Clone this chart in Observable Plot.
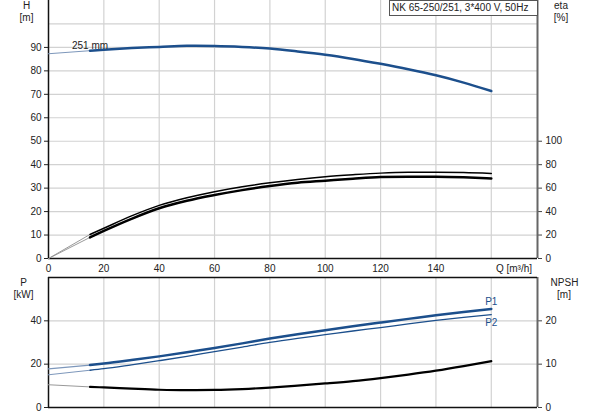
<!DOCTYPE html>
<html><head><meta charset="utf-8">
<script src="https://cdn.jsdelivr.net/npm/d3@7"></script>
<script src="https://cdn.jsdelivr.net/npm/@observablehq/plot@0.6"></script>
<style>
body{margin:0;background:#fff;font-family:"Liberation Sans",Arial,sans-serif;font-size:10px;color:#222}
#wrap{position:relative;width:593px;height:415px;overflow:hidden;background:#fff}
.abs{position:absolute;white-space:nowrap;line-height:1;transform:translate(-50%,-50%)}
#topc,#botc{position:absolute;left:0}
#topc{top:0}
#botc{top:276px}
#title{position:absolute;left:389px;top:0;width:145px;height:14px;border:1px solid #555;background:#fff;line-height:14px;padding-left:2px;white-space:nowrap;box-sizing:content-box}
</style></head><body>
<div id="wrap">
 <div id="topc"></div>
 <div id="botc"></div>
 <div id="title">NK 65-250/251, 3*400 V, 50Hz</div>
 <div class="abs" style="left:26.5px;top:5.5px">H</div>
 <div class="abs" style="left:26.5px;top:17.5px">[m]</div>
 <div class="abs" style="left:561px;top:5.5px">eta</div>
 <div class="abs" style="left:561px;top:17.5px">[%]</div>
 <div class="abs" style="left:514px;top:269px">Q [m³/h]</div>
 <div class="abs" style="left:23.5px;top:283px">P</div>
 <div class="abs" style="left:23.5px;top:294.5px">[kW]</div>
 <div class="abs" style="left:564.5px;top:283px">NPSH</div>
 <div class="abs" style="left:564px;top:294.5px">[m]</div>
</div>
<script>
// Flow Q [m³/h]
const q      = [0, 15, 20, 30, 40, 50, 60, 70, 80, 90, 100, 110, 120, 130, 140, 150, 160];
// Head H [m] (251 mm impeller)
const head   = [87.3, 88.6, 89.0, 89.7, 90.2, 90.7, 90.6, 90.2, 89.5, 88.3, 86.9, 85.1, 83.0, 80.7, 78.1, 75.0, 71.4];
// Efficiency [%] – pump (upper) and total (lower)
const etaUp  = [0, 20.5, 25.8, 36.3, 45.3, 51.8, 57.0, 61.2, 64.6, 67.4, 69.7, 71.4, 72.8, 73.5, 73.6, 73.3, 72.5];
const etaLo  = [0, 18.0, 23.5, 33.8, 42.8, 49.2, 54.1, 58.3, 61.8, 64.6, 66.3, 68.0, 69.4, 69.8, 69.7, 69.2, 68.3];
// Power [kW]
const p1     = [17.8, 19.6, 20.3, 21.9, 23.6, 25.5, 27.5, 29.6, 31.8, 33.8, 35.7, 37.5, 39.2, 40.9, 42.6, 44.1, 45.5];
const p2     = [15.1, 17.2, 17.9, 19.7, 21.6, 23.6, 25.8, 27.9, 30.1, 31.95, 33.6, 35.3, 36.9, 38.6, 40.2, 41.6, 42.9];
// NPSH [m]
const npsh   = [5.25, 4.75, 4.63, 4.35, 4.1, 4.0, 4.05, 4.25, 4.6, 5.05, 5.55, 6.1, 6.8, 7.6, 8.5, 9.55, 10.7];

const qMax = 176.7;
const xTicks = [0, 20, 40, 60, 80, 100, 120, 140];
const xGrid = [20, 40, 60, 80, 100, 120, 140, 160];
const hTicks = [0, 10, 20, 30, 40, 50, 60, 70, 80, 90];
const hGrid = [10, 20, 30, 40, 50, 60, 70, 80, 90, 100];
const etaTicks = [0, 20, 40, 60, 80, 100];
const pTicks = [0, 20, 40];
const pGrid = [20, 40];
const npshTicks = [0, 10, 20];
const thinEnd = 15;
const curveLabel = "251 mm";

const BLUE = "#1c4f8c";
const BLUE_THIN = "#7d97bb";
const GRAY_THIN = "#999";
const GRID = "#d2d2d2";
const chartStyle = {fontFamily: '"Liberation Sans", Arial, sans-serif', fontSize: "10px", color: "#222", background: "transparent", overflow: "visible"};

const rows = q.map((x, i) => ({q: x, head: head[i], e1: etaUp[i] / 2, e2: etaLo[i] / 2, p1: p1[i], p2: p2[i], npsh: npsh[i] * 2}));
const thin = rows.filter(d => d.q <= thinEnd);
const thick = rows.filter(d => d.q >= thinEnd);
const lastRow = rows[rows.length - 1];
const lblRow = rows.find(d => d.q === 15);
const C = "monotone-x";

const topChart = Plot.plot({
  width: 593, height: 276, marginLeft: 48, marginRight: 56, marginTop: 0, marginBottom: 18,
  style: chartStyle,
  x: {domain: [0, qMax]},
  y: {domain: [0, 110]},
  marks: [
    Plot.gridX(xGrid, {stroke: GRID, strokeOpacity: 1, strokeWidth: 1.2}),
    Plot.gridY(hGrid, {stroke: GRID, strokeOpacity: 1, strokeWidth: 1.2}),
    Plot.axisX({ticks: xTicks, tickSize: 0, tickPadding: 6, label: null}),
    Plot.axisY({ticks: hTicks, anchor: "left", tickSize: 4, tickPadding: 3, label: null, stroke: "#222"}),
    Plot.axisY({ticks: etaTicks.map(v => v / 2), tickFormat: d => d * 2, anchor: "right", tickSize: 4, tickPadding: 4, label: null, stroke: "#444"}),
    Plot.ruleX([0], {stroke: "#111", strokeWidth: 1.5}),
    Plot.ruleX([qMax], {stroke: "#666", strokeWidth: 2}),
    Plot.ruleY([0], {stroke: "#111", strokeWidth: 1.5}),
    Plot.line(thin, {x: "q", y: "head", stroke: BLUE_THIN, strokeWidth: 1, curve: C}),
    Plot.line(thin, {x: "q", y: "e1", stroke: GRAY_THIN, strokeWidth: 1, curve: C}),
    Plot.line(thin, {x: "q", y: "e2", stroke: GRAY_THIN, strokeWidth: 1, curve: C}),
    Plot.line(thick, {x: "q", y: "head", stroke: BLUE, strokeWidth: 2.5, curve: C}),
    Plot.line(thick, {x: "q", y: "e1", stroke: "#000", strokeWidth: 1.5, curve: C}),
    Plot.line(thick, {x: "q", y: "e2", stroke: "#000", strokeWidth: 2.5, curve: C}),
    Plot.text([lblRow], {x: "q", y: "head", text: () => curveLabel, dy: -5, dx: 0, textAnchor: "middle", fill: "#222"})
  ]
});
document.getElementById("topc").appendChild(topChart);

const botChart = Plot.plot({
  width: 593, height: 139, marginLeft: 48, marginRight: 56, marginTop: 1, marginBottom: 8,
  style: chartStyle,
  x: {domain: [0, qMax], axis: null},
  y: {domain: [0, 60]},
  marks: [
    Plot.gridX(xGrid, {stroke: GRID, strokeOpacity: 1, strokeWidth: 1.2}),
    Plot.gridY(pGrid, {stroke: GRID, strokeOpacity: 1, strokeWidth: 1.2}),
    Plot.axisY({ticks: pTicks, anchor: "left", tickSize: 4, tickPadding: 3, label: null, stroke: "#222"}),
    Plot.axisY({ticks: npshTicks.map(v => v * 2), tickFormat: d => d / 2, anchor: "right", tickSize: 4, tickPadding: 4, label: null, stroke: "#444"}),
    Plot.ruleX([0], {stroke: "#111", strokeWidth: 1.5}),
    Plot.ruleX([qMax], {stroke: "#666", strokeWidth: 2}),
    Plot.ruleY([0], {stroke: "#111", strokeWidth: 1.5}),
    Plot.ruleY([60], {stroke: "#111", strokeWidth: 1.5}),
    Plot.line(thin, {x: "q", y: "p1", stroke: BLUE_THIN, strokeWidth: 1.3, curve: C}),
    Plot.line(thin, {x: "q", y: "p2", stroke: BLUE_THIN, strokeWidth: 1, curve: C}),
    Plot.line(thin, {x: "q", y: "npsh", stroke: GRAY_THIN, strokeWidth: 1, curve: C}),
    Plot.line(thick, {x: "q", y: "p1", stroke: BLUE, strokeWidth: 2.5, curve: C}),
    Plot.line(thick, {x: "q", y: "p2", stroke: BLUE, strokeWidth: 1.3, curve: C}),
    Plot.line(thick, {x: "q", y: "npsh", stroke: "#000", strokeWidth: 2.2, curve: C}),
    Plot.text([lastRow], {x: "q", y: "p1", text: () => "P1", dy: -7, textAnchor: "middle", fill: BLUE}),
    Plot.text([lastRow], {x: "q", y: "p2", text: () => "P2", dy: 8, textAnchor: "middle", fill: BLUE})
  ]
});
document.getElementById("botc").appendChild(botChart);
</script>
</body></html>
